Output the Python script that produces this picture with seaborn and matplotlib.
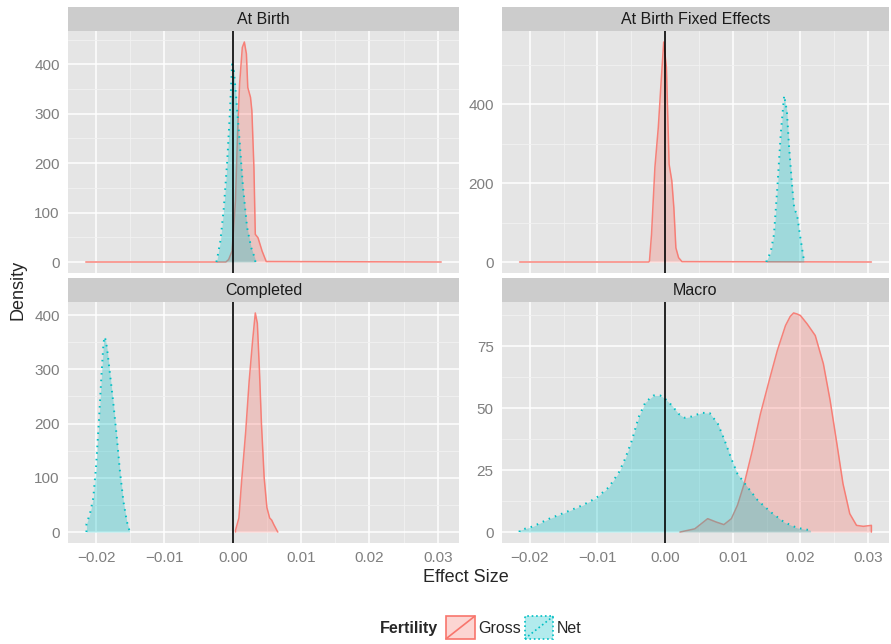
import numpy as np
import pandas as pd
import matplotlib
matplotlib.use("Agg")
import matplotlib.pyplot as plt
import seaborn as sns
from matplotlib.patches import Patch, Rectangle
from matplotlib.lines import Line2D
from matplotlib.legend_handler import HandlerBase

# ---- data ----
panels = ["At Birth", "At Birth Fixed Effects", "Completed", "Macro"]
groups = ["Gross", "Net"]

ab_gross_x = [-0.0215, -0.0010, -0.0006, -0.0001, 0.0004, 0.0007, 0.0010, 0.0014, 0.0017, 0.0020,
              0.0022, 0.0026, 0.0028, 0.0031, 0.0033, 0.0037, 0.0043, 0.0049, 0.0305]
ab_gross_y = [0, 0, 5, 22, 124, 259, 360, 434, 445, 421, 353, 333, 306, 191, 56, 49, 22, 1, 0]
ab_net_x = [-0.0024, -0.0023, -0.0018, -0.0013, -0.0008, -0.0004, -0.0001, 0.00015, 0.0005,
            0.0010, 0.0015, 0.0021, 0.0027, 0.0033, 0.0033]
ab_net_y = [0, 5, 43, 110, 205, 306, 400, 390, 333, 245, 151, 70, 29, 5, 0]

fe_gross_x = [-0.0215, -0.0024, -0.0023, -0.0020, -0.0015, -0.0010, -0.0006, -0.0002, 0.0002,
              0.0006, 0.0010, 0.0013, 0.0016, 0.0020, 0.0025, 0.0305]
fe_gross_y = [0, 0, 3, 70, 240, 341, 452, 558, 494, 248, 206, 138, 36, 11, 1, 0]
fe_net_x = [0.0150, 0.0150, 0.0156, 0.0161, 0.0166, 0.0171, 0.0176, 0.0180, 0.0183, 0.0188,
            0.0191, 0.0195, 0.0200, 0.0205, 0.0205]
fe_net_y = [0, 4, 24, 70, 189, 325, 422, 384, 299, 189, 134, 121, 62, 7, 0]

co_gross_x = [0.0004, 0.0004, 0.0009, 0.0013, 0.0019, 0.0024, 0.0029, 0.0033, 0.0036, 0.0039,
              0.0042, 0.0046, 0.0050, 0.0054, 0.0057, 0.0060, 0.0065, 0.0066]
co_gross_y = [0, 3, 26, 94, 186, 278, 352, 404, 385, 300, 200, 100, 45, 26, 22, 14, 2, 0]
co_net_x = [-0.0214, -0.0214, -0.0209, -0.0204, -0.0200, -0.0196, -0.0192, -0.0189, -0.0187,
            -0.0184, -0.0180, -0.0175, -0.0170, -0.0165, -0.0160, -0.0155, -0.0151, -0.0151]
co_net_y = [0, 15, 33, 63, 120, 200, 290, 350, 360, 340, 296, 241, 180, 112, 57, 20, 2, 0]

ma_gross_x = [0.0022, 0.0044, 0.0063, 0.0076, 0.0087, 0.0098, 0.0107, 0.0117, 0.0129, 0.0141,
              0.0154, 0.0166, 0.0178, 0.0185, 0.0190, 0.0195, 0.0200, 0.0210, 0.0222, 0.0234,
              0.0244, 0.0254, 0.0263, 0.0273, 0.0283, 0.0293, 0.0305, 0.0305]
ma_gross_y = [0, 1.3, 5.4, 4.0, 3.0, 5.4, 10.8, 19.5, 32.9, 47.7, 61.2, 73.3, 83.3, 87.0, 88.4,
              88.0, 87.4, 84.0, 79.3, 67.9, 53.1, 35.6, 19.5, 7.4, 2.7, 2.3, 2.7, 0]
ma_net_x = [-0.0215, -0.0215, -0.0195, -0.0171, -0.0146, -0.0122, -0.0102, -0.0083, -0.0068,
            -0.0059, -0.0049, -0.0039, -0.0029, -0.0017, -0.0007, 0.0000, 0.0010, 0.0020,
            0.0029, 0.0039, 0.0054, 0.0066, 0.0078, 0.0088, 0.0098, 0.0107, 0.0122, 0.0137,
            0.0156, 0.0176, 0.0195, 0.0215, 0.0215]
ma_net_y = [0, 0.7, 2.3, 5.4, 8.1, 10.8, 13.7, 18.1, 24.2, 29.6, 37.0, 46.4, 52.4, 55.1, 55.1,
            53.8, 51.1, 47.7, 46.1, 46.6, 48.1, 48.0, 43.7, 37.0, 29.6, 23.5, 18.1, 12.8, 8.1,
            4.0, 1.7, 0.7, 0]

x_ticks = [-0.02, -0.01, 0.0, 0.01, 0.02, 0.03]
x_tick_labels = ["\u22120.02", "\u22120.01", "0.00", "0.01", "0.02", "0.03"]
y_ticks = {
    "At Birth": [0, 100, 200, 300, 400],
    "At Birth Fixed Effects": [0, 200, 400],
    "Completed": [0, 100, 200, 300, 400],
    "Macro": [0, 25, 50, 75],
}

curves = {
    ("At Birth", "Gross"): (ab_gross_x, ab_gross_y),
    ("At Birth", "Net"): (ab_net_x, ab_net_y),
    ("At Birth Fixed Effects", "Gross"): (fe_gross_x, fe_gross_y),
    ("At Birth Fixed Effects", "Net"): (fe_net_x, fe_net_y),
    ("Completed", "Gross"): (co_gross_x, co_gross_y),
    ("Completed", "Net"): (co_net_x, co_net_y),
    ("Macro", "Gross"): (ma_gross_x, ma_gross_y),
    ("Macro", "Net"): (ma_net_x, ma_net_y),
}

rows = []
for (p, g), (xs, ys) in curves.items():
    for i, (a, b) in enumerate(zip(xs, ys)):
        rows.append({"panel": p, "group": g, "x": a, "density": b, "order": i})
df = pd.DataFrame(rows)

colors = {"Gross": "#F8766D", "Net": "#00BFC4"}

# ---- style ----
sns.set_theme(style="darkgrid")
plt.rcParams["font.family"] = ["Liberation Sans", "DejaVu Sans"]

W, H = 891, 644
fig = plt.figure(figsize=(W / 100, H / 100), dpi=100)


def box(l, t, r, b):
    return [l / W, 1 - b / H, (r - l) / W, (b - t) / H]


panel_px = {
    "At Birth": (68, 31, 459, 273),
    "At Birth Fixed Effects": (502, 31, 889, 273),
    "Completed": (68, 302, 459, 543),
    "Macro": (502, 302, 889, 543),
}

xmin, xmax = df["x"].min(), df["x"].max()
xpad = 0.05 * (xmax - xmin)
x_minor = [(a + b) / 2 for a, b in zip(x_ticks[:-1], x_ticks[1:])]

for p in panels:
    l, t, r, b = panel_px[p]
    ax = fig.add_axes(box(l, t, r, b))
    ax.set_facecolor("#E5E5E5")
    for s in ax.spines.values():
        s.set_visible(False)

    sub = df[df["panel"] == p]
    ymax = sub["density"].max()

    for z, g in enumerate(groups):
        d = sub[sub["group"] == g].sort_values("order")
        ax.fill_between(d["x"], d["density"], 0, color=colors[g], alpha=0.3,
                        lw=0, zorder=2 + 2 * z)
        kw = {"dashes": (0.8, 2.6)} if g == "Net" else {}
        sns.lineplot(data=d, x="x", y="density", sort=False, estimator=None,
                     color=colors[g], lw=1.1 if g == "Gross" else 1.4,
                     alpha=0.9 if g == "Gross" else 1.0,
                     zorder=2.5 + 2 * z, ax=ax, **kw)

    ax.axvline(0, color="black", lw=1.2, zorder=10)

    ax.set_xlim(xmin - xpad, xmax + xpad)
    ax.set_ylim(-0.05 * ymax, 1.05 * ymax)

    yt = y_ticks[p]
    step = yt[1] - yt[0]
    ax.set_yticks(yt)
    ax.set_yticklabels([str(v) for v in yt])
    ax.set_yticks(np.arange(step / 2, 1.05 * ymax, step), minor=True)
    ax.set_xticks(x_ticks)
    ax.set_xticklabels(x_tick_labels)
    ax.set_xticks(x_minor, minor=True)

    ax.grid(which="major", color="white", lw=1.1, zorder=0)
    ax.grid(which="minor", color="#F2F2F2", lw=0.6, zorder=0)
    ax.set_axisbelow(True)
    ax.tick_params(which="major", length=4, width=1, color="#7F7F7F",
                   labelcolor="#7F7F7F", labelsize=11, pad=2)
    ax.tick_params(which="minor", length=0)
    if p in ("At Birth", "At Birth Fixed Effects"):
        ax.tick_params(axis="x", which="both", length=0, labelbottom=False)
    ax.set_xlabel("")
    ax.set_ylabel("")

    sax = fig.add_axes(box(l, t - 24, r, t))
    sax.set_facecolor("#CCCCCC")
    sax.set_xticks([])
    sax.set_yticks([])
    for s in sax.spines.values():
        s.set_visible(False)
    sax.text(0.5, 0.5, p, ha="center", va="center", fontsize=11.5, color="#1A1A1A",
             transform=sax.transAxes)

fig.text(466 / W, 1 - 578 / H, "Effect Size", ha="center", va="center", fontsize=13)
fig.text(18 / W, 1 - 290 / H, "Density", ha="center", va="center", rotation=90, fontsize=13)


# ---- legend ----
class KeyHandler(HandlerBase):
    def create_artists(self, legend, orig_handle, xdescent, ydescent, width, height,
                       fontsize, trans):
        ec = orig_handle.get_edgecolor()
        ls = orig_handle.get_linestyle()
        rect = Rectangle((-xdescent, -ydescent), width, height,
                         facecolor=orig_handle.get_facecolor(), edgecolor=ec,
                         lw=1.2, linestyle=ls, transform=trans)
        diag = Line2D([-xdescent, -xdescent + width], [-ydescent, -ydescent + height],
                      color=ec, lw=1.2, linestyle=ls, transform=trans)
        return [rect, diag]


handles = []
for g in groups:
    fc = matplotlib.colors.to_rgba(colors[g], 0.3)
    handles.append(Patch(facecolor=fc, edgecolor=colors[g],
                         linestyle="-" if g == "Gross" else ":"))

fig.text(438 / W, 1 - 628 / H, "Fertility", ha="right", va="center",
         fontsize=11.5, fontweight="bold")
fig.legend(handles, groups, loc="center left", bbox_to_anchor=(446 / W, 1 - 627.5 / H),
           ncol=2, frameon=False, fontsize=11.5, borderpad=0, borderaxespad=0,
           handlelength=1.8, handleheight=1.8, handletextpad=0.2, columnspacing=0.25,
           handler_map={Patch: KeyHandler()})

fig.savefig("out.png", dpi=100)
